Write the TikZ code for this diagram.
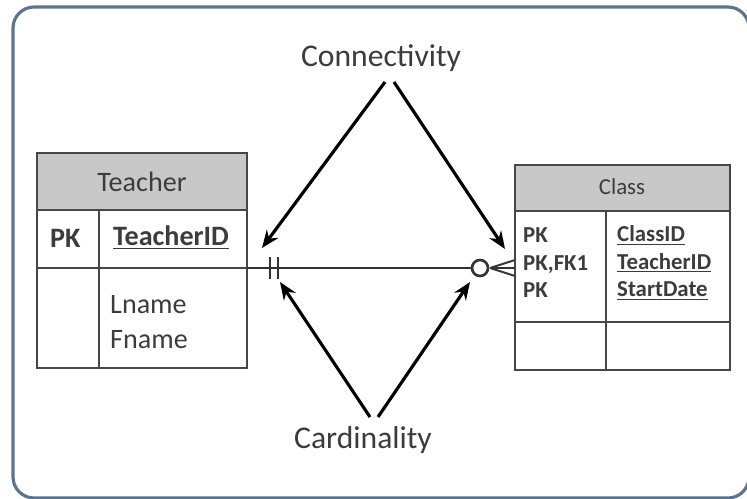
\documentclass[tikz,border=0pt]{standalone}
\usepackage{fontspec}
\setmainfont{Carlito}
\usepackage{xcolor}
\usetikzlibrary{arrows.meta,positioning}
\definecolor{frameblue}{HTML}{5B7590}
\definecolor{headgray}{HTML}{C8C8C8}
\definecolor{txtgray}{HTML}{3C3C3C}
\tikzset{
  tbl/.style={draw=black!72, line width=1.1pt},
  hdr/.style={tbl, fill=headgray},
  txt/.style={text=txtgray, font=\fontsize{16}{20}\selectfont},
  small/.style={text=txtgray, font=\fontsize{13}{15.6}\selectfont\bfseries},
  lbl/.style={text=txtgray, font=\fontsize{18}{22}\selectfont},
  rel/.style={draw=black!80, line width=1.5pt},
  pointer/.style={line width=1.8pt, -{Stealth[length=10pt,width=8pt]}},
}

\begin{document}
\begin{tikzpicture}[x=0.02cm,y=-0.02cm]
    \useasboundingbox (0,0) rectangle (747,499);
    % Frame
    \draw[frameblue, line width=1.8pt, rounded corners=12pt] (13,7) rectangle (749,498);

    % Teacher table
    \draw[hdr] (37,153) rectangle (247,210);
    \draw[tbl] (37,210) rectangle (247,368);
    \draw[tbl] (37,268) -- (247,268);
    \draw[tbl] (99,210) -- (99,368);
    \node[txt] (tname) at (142,182) {Teacher};
    \node[txt, anchor=west, font=\fontsize{16}{20}\selectfont\bfseries] (tpk) at (44,238) {PK};
    \node[txt, anchor=west, font=\fontsize{16}{20}\selectfont\bfseries] (tid) at (107,238) {\underline{TeacherID}};
    \node[txt, anchor=west, align=left] (tattr) at (104,322) {Lname\\Fname};

    % Class table
    \draw[hdr] (515,165) rectangle (730,211);
    \draw[tbl] (515,211) rectangle (730,370);
    \draw[tbl] (515,322) -- (730,322);
    \draw[tbl] (606,211) -- (606,370);
    \node[txt, font=\fontsize{13}{15.6}\selectfont] (cname) at (622,187) {Class};
    \node[small, anchor=west, align=left] (ckeys) at (517,263) {PK\\PK,FK1\\PK};
    \node[small, anchor=west, align=left] (cids) at (611,263) {\underline{ClassID}\\\underline{TeacherID}\\\underline{StartDate}};

    % Relationship
    \coordinate (tport) at (247,268);
    \node[circle, rel, minimum size=0.32cm, inner sep=0pt] (zero) at (480,268) {};
    \draw[rel] (tport) -- (zero.west);
    \foreach \x in {270,278}
        \draw[rel] (\x,257) -- (\x,279);
    \coordinate (foot) at (490,268);
    \foreach \dy in {-8,0,8}
        \draw[rel, line width=1.1pt] (foot) -- (515,268+\dy);

    % Labels and pointers
    \node[lbl] (conn) at (381,58) {Connectivity};
    \node[lbl] (card) at (363,440) {Cardinality};
    \coordinate (connL) at (385,82);
    \coordinate (connR) at (394,82);
    \coordinate (cardL) at (370,417);
    \coordinate (cardR) at (378,417);
    \coordinate (oneTop) at (262,248);
    \coordinate (manyTop) at (505,249);
    \coordinate (oneBot) at (280,282);
    \coordinate (manyBot) at (470,282);
    \draw[pointer] (connL) -- (oneTop);
    \draw[pointer] (connR) -- (manyTop);
    \draw[pointer] (cardL) -- (oneBot);
    \draw[pointer] (cardR) -- (manyBot);

\end{tikzpicture}
\end{document}
